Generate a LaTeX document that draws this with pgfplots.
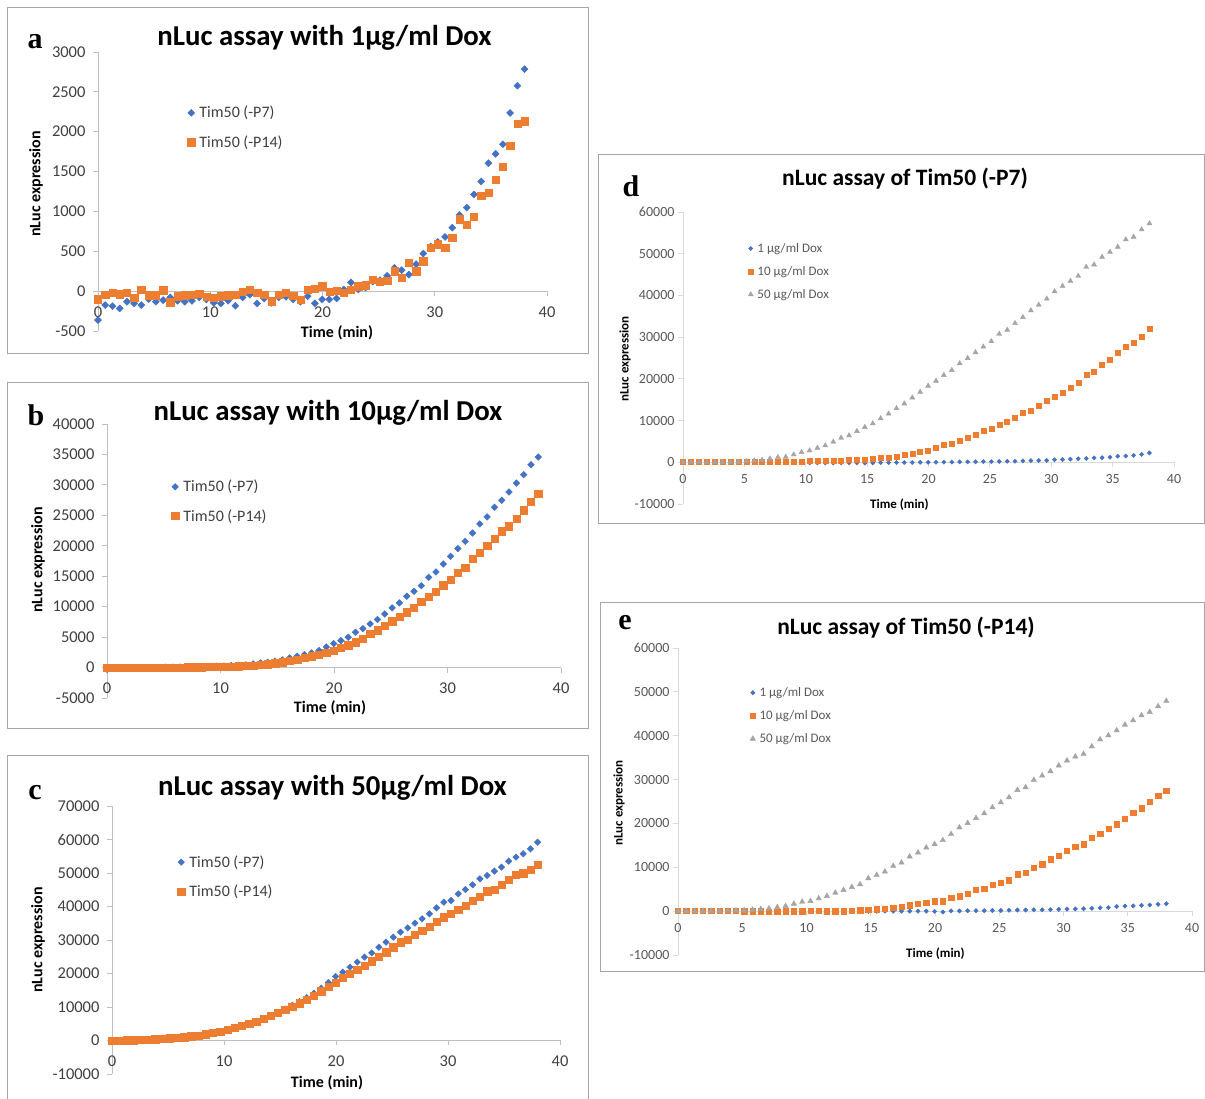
\documentclass[border=0pt]{standalone}
\usepackage{fontspec}
\setmainfont{Carlito}
\newfontfamily\letterfont{Liberation Serif}
\usepackage{pgfplots}
\usepackage{pgfplotstable}
\pgfplotsset{compat=1.18}

\definecolor{xlblue}{HTML}{4472C4}
\definecolor{xlorange}{HTML}{ED7D31}
\definecolor{xlgray}{HTML}{A5A5A5}
\definecolor{axisgray}{HTML}{BFBFBF}
\definecolor{lightaxis}{HTML}{D9D9D9}
\definecolor{framegray}{HTML}{A6A6A6}
\definecolor{ticktext}{HTML}{404040}
\definecolor{ticktextb}{HTML}{595959}

% nLuc readings: time (min), panels a-c (Tim50 -P7 / -P14 at 1, 10, 50 ug/ml Dox),
% panel d (-P7) and panel e (-P14) at 1, 10, 50 ug/ml Dox
\pgfplotstableread{
t     aP7   aP14  bP7   bP14  cP7   cP14  d1    d10   d50   e1    e10   e50
0     -363  -100  -300  -80   -300  0     100   250   0     0     150   0
0.64  -175  -42   -150  -30   -100  0     100   250   0     0     150   0
1.29  -188  -21   -100  -60   -50   50    50    250   0     0     100   0
1.93  -217  -38   -80   -40   0     100   50    250   0     0     100   0
2.58  -133  -21   -50   -50   50    150   50    250   0     0     150   0
3.22  -154  -80   -20   -30   150   250   0     250   50    0     100   0
3.86  -175  21    0     -10   250   350   0     250   50    -50   100   50
4.51  -100  -50   20    -20   400   500   0     200   100   -50   50    100
5.15  -133  -50   40    0     550   650   -50   200   240   -50   0     150
5.8   -113  13    60    10    750   800   -50   150   400   -50   0     310
6.44  -79   -138  80    20    950   1000  -100  50    560   -50   0     460
7.08  -121  -63   100   40    1200  1250  -100  50    880   -50   -50   610
7.73  -133  -50   120   60    1500  1500  -100  100   1200  -50   -50   920
8.37  -121  -42   150   80    1850  1850  -150  100   1280  -100  0     1140
9.02  -79   -29   180   100   2250  2250  -150  150   1850  -100  0     1680
9.66  -104  -71   220   120   2750  2700  -150  250   2410  -100  0     2140
10.31 -146  -80   270   150   3300  3250  -150  320   2810  -100  50    2290
10.95 -154  -63   330   180   3850  3800  -150  320   3450  -50   50    2900
11.59 -121  -50   380   220   4450  4400  -150  400   4010  -50   0     3430
12.24 -183  -42   440   270   5100  5000  -150  400   4900  -50   0     4200
12.88 -79   -8    600   330   5800  5700  -150  480   5860  -50   0     4810
13.53 -46   21    766   440   6600  6500  -150  560   6420  -50   150   5490
14.17 -154  -21   875   550   7500  7300  -150  640   7470  -100  230   6100
14.81 -92   -42   1040  710   8400  8200  -200  720   8430  -50   310   7480
15.46 -146  -126  1260  875   9400  9100  -150  880   9310  -50   460   8240
16.1  -79   -42   1590  1090  10500 10100 -100  1040  10520 0     610   9000
16.75 -71   -21   1860  1310  11600 11100 -100  1200  11640 0     760   10300
17.39 -104  -59   2130  1590  12800 12200 -50   1450  12930 0     990   11060
18.03 -133  -104  2410  1860  14100 13400 -50   1850  14050 0     1370  12440
18.68 -63   21    2790  2130  15600 14700 -50   2090  15500 0     1680  13350
19.32 -154  33    3390  2410  17300 16000 0     2650  16860 0     1910  14500
19.97 -104  63    3940  2790  19100 17300 0     2810  18310 -50   2290  15260
20.61 -104  -8    4430  3230  20400 18700 0     3610  19510 -200  2290  16180
21.25 -92   4     4980  3660  21890 20000 50    4100  20880 50    3050  17550
21.9  21    -17   5800  4160  23380 21100 50    4420  22080 50    3430  19080
22.54 108   21    6400  4760  24880 22400 100   5060  23690 100   3970  20070
23.19 21    63    7170  5520  26170 23700 100   5860  24970 100   4810  21210
23.83 46    75    7880  6130  27860 25070 100   6500  26340 100   5190  22280
24.47 120   146   8800  6890  29350 26370 150   7470  27700 150   5950  23650
25.12 138   117   9790  7600  30850 27860 150   8110  28990 150   6490  24800
25.76 192   129   10610 8310  32340 29350 200   8910  30750 200   7020  25940
26.41 292   250   11700 9080  33630 30050 250   9640  31720 250   8390  27620
27.05 263   171   12520 9790  35020 31540 250   10680 33320 250   8770  28230
27.69 208   354   13450 10780 36320 32840 350   11800 34770 300   9920  29910
28.34 338   250   14820 11600 37810 34030 400   12450 36380 300   10680 30900
28.98 471   375   15700 12420 39600 35520 400   13650 37740 350   11830 31890
29.63 560   546   17010 13510 41290 36810 450   14860 39190 400   12590 33190
30.27 617   588   18270 14440 41790 37810 600   15740 40950 450   13730 34340
30.92 680   546   19530 15530 43780 39000 650   16700 42240 500   14730 35250
31.56 796   667   20730 16360 45070 40300 750   17910 43440 550   15260 35860
32.2  955   901   22100 17890 46470 41790 850   19110 44650 650   16790 37540
32.85 1047  834   23580 18820 48260 42980 900   20880 46810 750   17700 39140
33.49 1213  938   24730 20020 49250 44580 1050  21760 47380 800   18850 40060
34.14 1376  1201  26310 21170 50550 45070 1100  23370 49220 1050  19840 41200
34.78 1605  1234  27460 22370 51740 46570 1200  24570 50430 1150  21140 42500
35.42 1722  1401  28830 23190 53530 47960 1450  26340 51630 1200  22510 43490
36.07 1843  1564  30300 24450 54720 49550 1500  27700 53400 1300  23500 44640
36.71 2235  1822  31670 25820 55720 49950 1650  28590 54040 1400  25030 45400
37.36 2577  2097  33300 27190 57210 50940 1900  30110 55800 1550  26320 46700
38.0  2785  2131  34570 28550 59200 52540 2250  31960 57250 1700  27470 47920
}\nluc

\pgfplotsset{
  nlucpanel/.style={
    scale only axis, anchor=south west,
    axis x line=middle, axis y line=left,
    axis line style={-, draw=axisgray, line width=0.9pt},
    xmin=0, xmax=40,
    hide obscured x ticks=false, hide obscured y ticks=false,
    tick align=outside, major tick length=5pt,
    tick style={draw=axisgray, line width=0.9pt},
    scaled y ticks=false, scaled x ticks=false,
    /pgf/number format/assume math mode=true,
    /pgf/number format/set thousands separator={},
    clip=false,
    legend cell align=left,
    legend style={draw=none, fill=none, anchor=north west, inner sep=0pt, outer sep=0pt},
  },
  bigfonts/.style={
    tick label style={font=\fontsize{16.5}{19}\selectfont, text=ticktext},
    xticklabel style={yshift=-7pt},
    yticklabel style={xshift=-4pt},
    legend style={font=\fontsize{16}{19}\selectfont, text=ticktext, row sep=12pt},
    legend image code/.code={\path (0pt,0pt) (11pt,0pt);
      \draw[mark repeat=2,mark phase=2,##1] plot coordinates {(0pt,0pt) (5pt,0pt) (10pt,0pt)};},
  },
  smallfonts/.style={
    axis line style={draw=lightaxis}, tick style={draw=lightaxis},
    tick label style={font=\fontsize{14}{16}\selectfont, text=ticktextb},
    xticklabel style={yshift=-4pt},
    legend style={font=\fontsize{13}{15}\selectfont, text=ticktextb, row sep=8.5pt},
    legend image code/.code={\path (0pt,0pt) (8.5pt,0pt);
      \draw[mark repeat=2,mark phase=2,##1] plot coordinates {(0pt,0pt) (4pt,0pt) (8pt,0pt)};},
  },
  bluemk/.style={only marks, color=xlblue, mark=square*, mark options={rotate=45}},
  orangemk/.style={only marks, color=xlorange, mark=square*},
  graymk/.style={only marks, color=xlgray, mark=triangle*},
}

\begin{document}
\begin{tikzpicture}
\path[use as bounding box, fill=white] (0pt,0pt) rectangle (1205pt,1099pt);

% panel frames
\begin{scope}[draw=framegray, line width=0.8pt]
  \draw (7.5pt,746pt) rectangle (588.5pt,1091.5pt);
  \draw (7.5pt,371pt) rectangle (588.5pt,717pt);
  \draw (7.5pt,-5pt) rectangle (588.5pt,343.3pt);
  \draw (598.5pt,576pt) rectangle (1204.5pt,945pt);
  \draw (600.5pt,128pt) rectangle (1204.5pt,496.5pt);
\end{scope}

% (a) 1 ug/ml
\begin{axis}[nlucpanel, bigfonts, at={(98pt,768pt)}, width=449pt, height=279pt,
  ymin=-500, ymax=3000, ytick={-500,0,500,1000,1500,2000,2500,3000},
  xtick={0,10,20,30,40},
  legend style={at={(axis description cs:0.196,0.8126)}}]
\addplot[bluemk, mark size=2.5pt] table[x=t,y=aP7]{\nluc};
\addlegendentry{Tim50 (-P7)}
\addplot[orangemk, mark size=3.65pt] table[x=t,y=aP14]{\nluc};
\addlegendentry{Tim50 (-P14)}
\end{axis}

% (b) 10 ug/ml
\begin{axis}[nlucpanel, bigfonts, at={(107pt,401pt)}, width=454pt, height=274pt,
  ymin=-5000, ymax=40000, ytick={-5000,0,5000,10000,15000,20000,25000,30000,35000,40000},
  xtick={0,10,20,30,40},
  legend style={at={(axis description cs:0.1388,0.802)}}]
\addplot[bluemk, mark size=2.35pt] table[x=t,y=bP7]{\nluc};
\addlegendentry{Tim50 (-P7)}
\addplot[orangemk, mark size=3.65pt] table[x=t,y=bP14]{\nluc};
\addlegendentry{Tim50 (-P14)}
\end{axis}

% (c) 50 ug/ml
\begin{axis}[nlucpanel, bigfonts, at={(112pt,25pt)}, width=448pt, height=268pt,
  ymin=-10000, ymax=70000, ytick={-10000,0,10000,20000,30000,40000,50000,60000,70000},
  xtick={0,10,20,30,40},
  legend style={at={(axis description cs:0.1429,0.8225)}}]
\addplot[bluemk, mark size=2.3pt] table[x=t,y=cP7]{\nluc};
\addlegendentry{Tim50 (-P7)}
\addplot[orangemk, mark size=3.65pt] table[x=t,y=cP14]{\nluc};
\addlegendentry{Tim50 (-P14)}
\end{axis}

% (d) Tim50 (-P7)
\begin{axis}[nlucpanel, smallfonts, at={(683pt,595pt)}, width=491pt, height=292pt,
  ymin=-10000, ymax=60000, ytick={-10000,0,10000,20000,30000,40000,50000,60000},
  xtick={0,5,10,15,20,25,30,35,40},
  legend style={at={(axis description cs:0.1295,0.90)}}]
\addplot[bluemk, mark size=1.5pt] table[x=t,y=d1]{\nluc};
\addlegendentry{1 µg/ml Dox}
\addplot[orangemk, mark size=2.5pt] table[x=t,y=d10]{\nluc};
\addlegendentry{10 µg/ml Dox}
\addplot[graymk, mark size=2.9pt] table[x=t,y=d50]{\nluc};
\addlegendentry{50 µg/ml Dox}
\end{axis}

% (e) Tim50 (-P14)
\begin{axis}[nlucpanel, smallfonts, at={(678pt,144pt)}, width=514pt, height=307pt,
  ymin=-10000, ymax=60000, ytick={-10000,0,10000,20000,30000,40000,50000,60000},
  xtick={0,5,10,15,20,25,30,35,40},
  legend style={at={(axis description cs:0.1374,0.878)}}]
\addplot[bluemk, mark size=1.55pt] table[x=t,y=e1]{\nluc};
\addlegendentry{1 µg/ml Dox}
\addplot[orangemk, mark size=2.65pt] table[x=t,y=e10]{\nluc};
\addlegendentry{10 µg/ml Dox}
\addplot[graymk, mark size=3.1pt] table[x=t,y=e50]{\nluc};
\addlegendentry{50 µg/ml Dox}
\end{axis}

% titles
\begin{scope}[every node/.style={font=\bfseries\fontsize{28.8}{32}\selectfont, anchor=base}]
  \node at (324.5pt,1053pt) {nLuc assay with 1µg/ml Dox};
  \node at (328pt,678pt) {nLuc assay with 10µg/ml Dox};
  \node at (332.5pt,303pt) {nLuc assay with 50µg/ml Dox};
\end{scope}
\begin{scope}[every node/.style={font=\bfseries\fontsize{23.5}{27}\selectfont, anchor=base}]
  \node at (905pt,913pt) {nLuc assay of Tim50 (-P7)};
  \node at (906pt,464pt) {nLuc assay of Tim50 (-P14)};
\end{scope}

% panel letters
\begin{scope}[every node/.style={font=\letterfont\bfseries\fontsize{30}{34}\selectfont, anchor=base}]
  \node at (35pt,1050pt) {a};
  \node at (36pt,673pt) {b};
  \node at (35pt,299pt) {c};
  \node at (631pt,902pt) {d};
  \node at (625pt,469pt) {e};
\end{scope}

% axis titles
\begin{scope}[every node/.style={font=\bfseries\fontsize{16}{19}\selectfont}]
  \node[rotate=90] at (36pt,915pt) {nLuc expression};
  \node at (337pt,766pt) {Time (min)};
  \node[rotate=90] at (38pt,539pt) {nLuc expression};
  \node at (330pt,391pt) {Time (min)};
  \node[rotate=90] at (38pt,159pt) {nLuc expression};
  \node at (327pt,16pt) {Time (min)};
\end{scope}
\begin{scope}[every node/.style={font=\bfseries\fontsize{13}{15}\selectfont}]
  \node[rotate=90] at (625pt,740pt) {nLuc expression};
  \node at (899.5pt,594pt) {Time (min)};
  \node[rotate=90] at (619pt,296pt) {nLuc expression};
  \node at (935.5pt,145pt) {Time (min)};
\end{scope}
\end{tikzpicture}
\end{document}
